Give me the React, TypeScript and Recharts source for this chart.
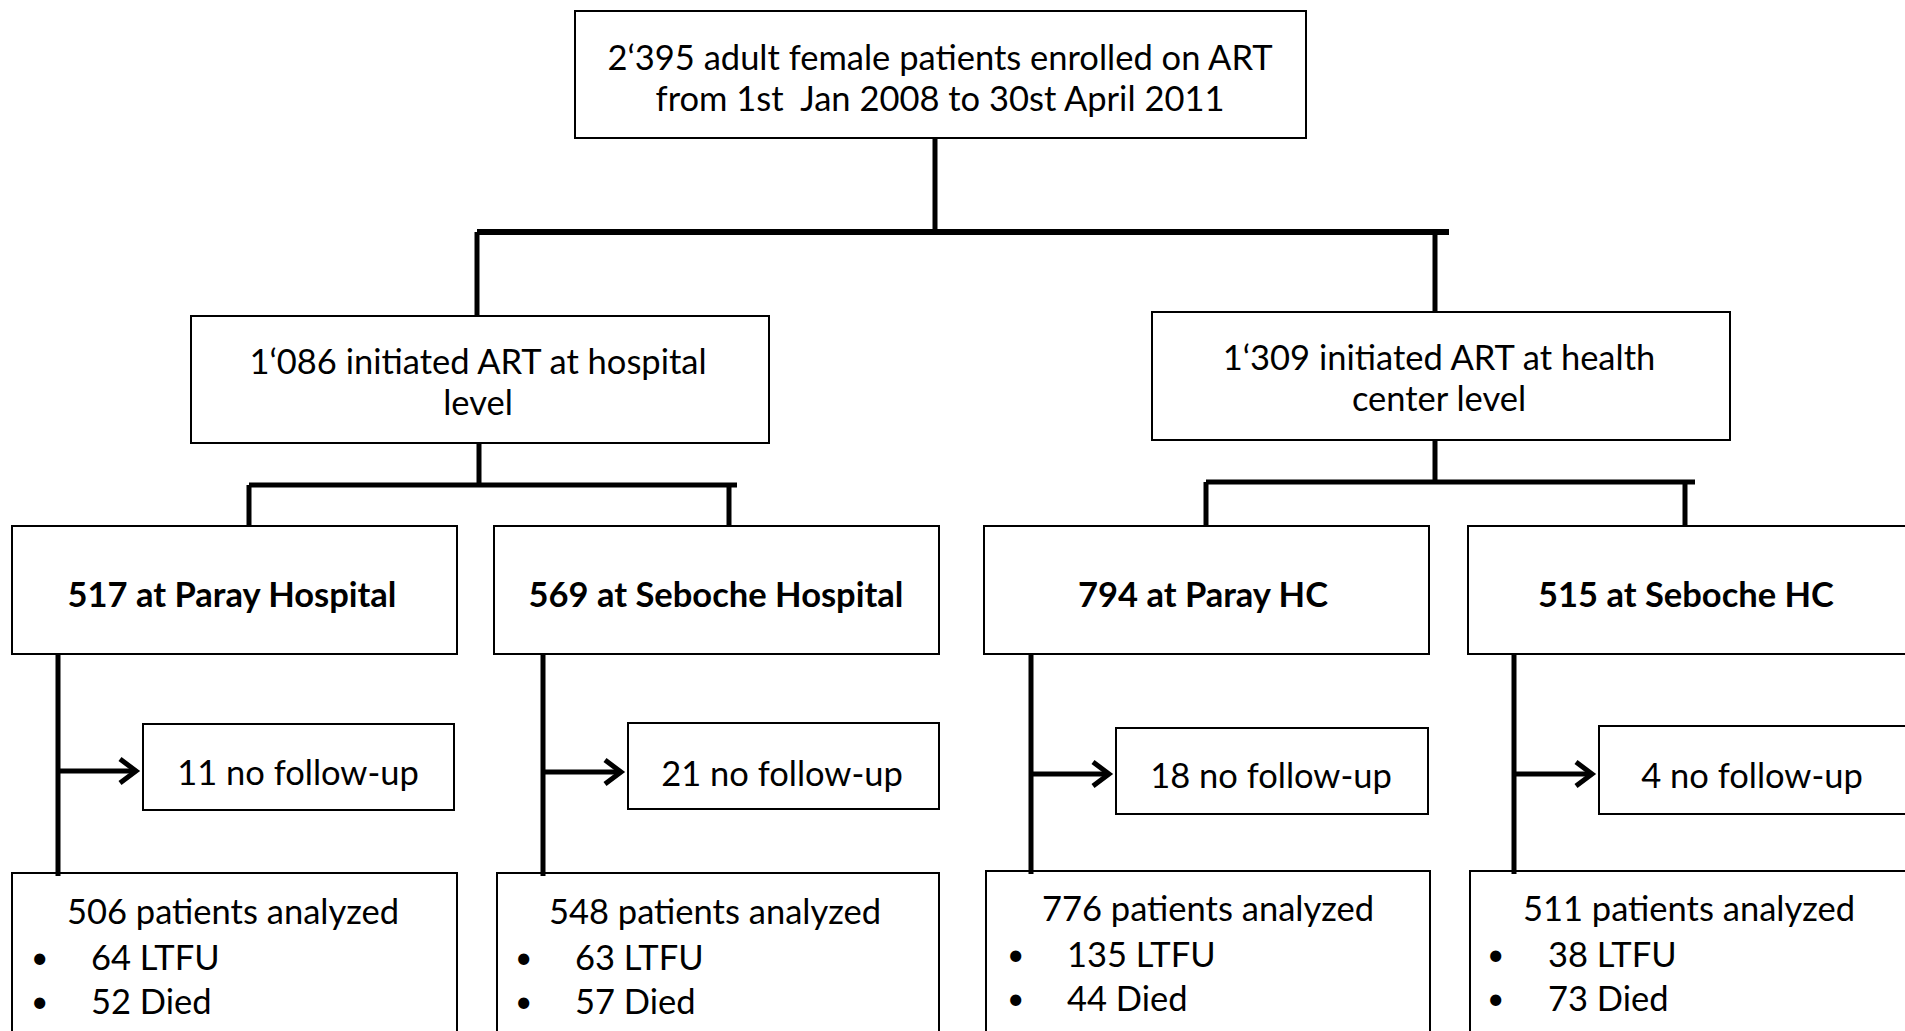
import { ScatterChart, Scatter, XAxis, YAxis, ReferenceArea, ReferenceLine } from 'recharts';

const W = 1905;
const H = 1031;
const FONT = 'Lato, "Open Sans", sans-serif';
const FS = 34.5;

// flowchart content
const topLines = ['2‘395 adult female patients enrolled on ART', 'from 1st  Jan 2008 to 30st April 2011'];
const levelLines = [
  ['1‘086 initiated ART at hospital', 'level'],
  ['1‘309 initiated ART at health', 'center level'],
];
const sites = ['517 at Paray Hospital', '569 at Seboche Hospital', '794 at Paray HC', '515 at Seboche HC'];
const noFollowUp = [11, 21, 18, 4];
const analyzed = [506, 548, 776, 511];
const ltfu = [64, 63, 135, 38];
const died = [52, 57, 44, 73];

// layout, in the chart's own coordinate grid (0..W, 0..H, y down)
const topBox = { x1: 575, x2: 1306, y1: 11, y2: 138 };
const levelBoxes = [
  { x1: 191, x2: 769, y1: 316, y2: 443 },
  { x1: 1152, x2: 1730, y1: 312, y2: 440 },
];
const siteLeft = [12, 494, 984, 1468];
const siteRight = [457, 939, 1429, 1920];
const trunkX = [58, 543, 1031, 1514];
const nfLeft = [143, 628, 1116, 1599];
const nfRight = [454, 939, 1428, 1920];
const nfTop = [724, 723, 728, 726];
const nfBottom = [810, 809, 814, 814];
const arrowY = [771, 772, 774, 774];
const outLeft = [12, 497, 986, 1470];
const outRight = [457, 939, 1430, 1920];
const outTop = [873, 873, 871, 871];

const connectors: { x1: number; y1: number; x2: number; y2: number; w: number }[] = [
  { x1: 935, y1: 138, x2: 935, y2: 232, w: 5 },
  { x1: 477, y1: 232, x2: 1449, y2: 232, w: 6 },
  { x1: 477, y1: 232, x2: 477, y2: 316, w: 5 },
  { x1: 1435, y1: 232, x2: 1435, y2: 312, w: 5 },
  { x1: 479, y1: 443, x2: 479, y2: 485, w: 5 },
  { x1: 249, y1: 485, x2: 737, y2: 485, w: 5 },
  { x1: 249, y1: 485, x2: 249, y2: 526, w: 5 },
  { x1: 729, y1: 485, x2: 729, y2: 526, w: 5 },
  { x1: 1435, y1: 440, x2: 1435, y2: 482, w: 5 },
  { x1: 1206, y1: 482, x2: 1695, y2: 482, w: 5 },
  { x1: 1206, y1: 482, x2: 1206, y2: 526, w: 5 },
  { x1: 1685, y1: 482, x2: 1685, y2: 526, w: 5 },
];

type Label = { x: number; y: number; text: string; anchor: string; bold?: boolean; size?: number };

const labels: Label[] = [
  { x: 940, y: 56, text: topLines[0], anchor: 'middle' },
  { x: 940, y: 97, text: topLines[1], anchor: 'middle' },
  { x: 478, y: 360, text: levelLines[0][0], anchor: 'middle' },
  { x: 478, y: 401, text: levelLines[0][1], anchor: 'middle' },
  { x: 1439, y: 356, text: levelLines[1][0], anchor: 'middle' },
  { x: 1439, y: 397, text: levelLines[1][1], anchor: 'middle' },
];
const siteTextX = [232, 716, 1203, 1686];
const nfTextX = [298, 782, 1271, 1752];
const headX = [67, 549, 1042, 1523];
const bulletX = [31, 515, 1007, 1487];
const itemX = [91, 575, 1067, 1548];
const headY = [910, 910, 907, 907];
sites.forEach((s, i) => {
  labels.push({ x: siteTextX[i], y: 593, text: s, anchor: 'middle', bold: true });
  labels.push({ x: nfTextX[i], y: arrowY[i], text: `${noFollowUp[i]} no follow-up`, anchor: 'middle' });
  labels.push({ x: headX[i], y: headY[i], text: `${analyzed[i]} patients analyzed`, anchor: 'start' });
  labels.push({ x: bulletX[i], y: headY[i] + 46, text: '•', anchor: 'start', size: 30 });
  labels.push({ x: itemX[i], y: headY[i] + 46, text: `${ltfu[i]} LTFU`, anchor: 'start' });
  labels.push({ x: bulletX[i], y: headY[i] + 90, text: '•', anchor: 'start', size: 30 });
  labels.push({ x: itemX[i], y: headY[i] + 90, text: `${died[i]} Died`, anchor: 'start' });
});

const arrowHeads = trunkX.map((t, i) => ({ x: nfLeft[i] - 7, y: arrowY[i] }));

const TextShape = (props: any) => {
  const p = props.payload as Label;
  return (
    <text
      x={props.cx}
      y={props.cy}
      textAnchor={p.anchor}
      dominantBaseline="central"
      fontFamily={FONT}
      fontSize={p.size ?? FS}
      fontWeight={p.bold ? 700 : 400}
      fill="#000"
      style={{ whiteSpace: 'pre' }}
    >
      {p.text}
    </text>
  );
};

const ArrowShape = (props: any) => {
  const { cx, cy } = props;
  return (
    <path
      d={`M${cx - 16},${cy - 12} L${cx},${cy} L${cx - 16},${cy + 12}`}
      fill="none"
      stroke="#000"
      strokeWidth={5}
    />
  );
};

const box = (key: string, x1: number, x2: number, y1: number, y2: number) => (
  <ReferenceArea
    key={key}
    x1={x1}
    x2={x2}
    y1={y1}
    y2={y2}
    fill="none"
    stroke="#000"
    strokeWidth={2}
    ifOverflow="visible"
  />
);

export default function App() {
  return (
    <div style={{ position: 'absolute', left: 0, top: 0, width: W, height: H, background: '#fff' }}>
      <ScatterChart width={W} height={H} margin={{ top: 0, right: 0, bottom: 0, left: 0 }}>
        <XAxis type="number" dataKey="x" domain={[0, W]} hide allowDataOverflow />
        <YAxis type="number" dataKey="y" domain={[0, H]} reversed hide allowDataOverflow />
        {box('top', topBox.x1, topBox.x2, topBox.y1, topBox.y2)}
        {levelBoxes.map((b, i) => box(`lv${i}`, b.x1, b.x2, b.y1, b.y2))}
        {sites.map((_, i) => box(`site${i}`, siteLeft[i], siteRight[i], 526, 654))}
        {sites.map((_, i) => box(`nf${i}`, nfLeft[i], nfRight[i], nfTop[i], nfBottom[i]))}
        {sites.map((_, i) => box(`out${i}`, outLeft[i], outRight[i], outTop[i], 1045))}
        {connectors.map((c, i) => (
          <ReferenceLine
            key={`c${i}`}
            segment={[{ x: c.x1, y: c.y1 }, { x: c.x2, y: c.y2 }]}
            stroke="#000"
            strokeWidth={c.w}
            ifOverflow="visible"
          />
        ))}
        {trunkX.map((t, i) => (
          <ReferenceLine
            key={`trunk${i}`}
            segment={[{ x: t, y: 654 }, { x: t, y: outTop[i] + 3 }]}
            stroke="#000"
            strokeWidth={5}
            ifOverflow="visible"
          />
        ))}
        {trunkX.map((t, i) => (
          <ReferenceLine
            key={`shaft${i}`}
            segment={[{ x: t, y: arrowY[i] }, { x: nfLeft[i] - 9, y: arrowY[i] }]}
            stroke="#000"
            strokeWidth={5}
            ifOverflow="visible"
          />
        ))}
        <Scatter data={arrowHeads} shape={ArrowShape} isAnimationActive={false} />
        <Scatter data={labels} shape={TextShape} isAnimationActive={false} />
      </ScatterChart>
    </div>
  );
}
